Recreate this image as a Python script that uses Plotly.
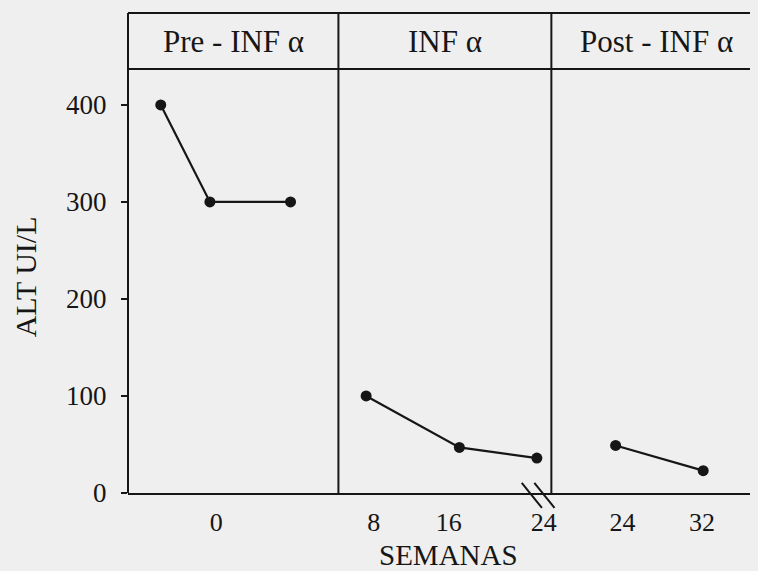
import plotly.graph_objects as go

# ---- data ----
# x positions are in a generic horizontal axis unit (0..100 across the plot)
pre_x = [5.2, 13.0, 25.8]
pre_y = [400, 300, 300]
inf_x = [37.8, 52.6, 64.9]
inf_y = [100, 47, 36]
post_x = [77.4, 91.3]
post_y = [49, 23]

tick_pos = [14.0, 39.0, 50.9, 66.0, 78.5, 91.1]
tick_text = ["0", "8", "16", "24", "24", "32"]

phase_names = ["Pre - INF α", "INF α", "Post - INF α"]
phase_bounds = [0, 33.4, 67.2, 100.6]   # panel edges in axis units

y_ticks = [0, 100, 200, 300, 400]

X_MIN, X_MAX = 0, 100
Y_MIN, Y_MAX = 0, 437
Y_DOM_TOP = 424 / 480

INK = "#161616"
BG = "#efefef"
FONT = "Liberation Serif"

def xp(u):
    return (u - X_MIN) / (X_MAX - X_MIN)

fig = go.Figure()
for xs, ys in [(pre_x, pre_y), (inf_x, inf_y), (post_x, post_y)]:
    fig.add_trace(go.Scatter(
        x=xs, y=ys, mode="lines+markers",
        line=dict(color=INK, width=2.2),
        marker=dict(color=INK, size=11),
        showlegend=False, cliponaxis=False,
    ))

shapes = []
# outer frame: left line full height, top line, header separator
shapes.append(dict(type="line", xref="paper", yref="paper", x0=0, x1=0, y0=0, y1=1,
                   line=dict(color=INK, width=2)))
shapes.append(dict(type="line", xref="paper", yref="paper", x0=0, x1=1, y0=1, y1=1,
                   line=dict(color=INK, width=2)))
shapes.append(dict(type="line", xref="paper", yref="paper", x0=0, x1=1, y0=Y_DOM_TOP, y1=Y_DOM_TOP,
                   line=dict(color=INK, width=2)))
# panel dividers
for b in phase_bounds[1:3]:
    shapes.append(dict(type="line", xref="paper", yref="paper", x0=xp(b), x1=xp(b), y0=0, y1=1,
                       line=dict(color=INK, width=2)))
# axis break marks near the second divider
bx = xp(phase_bounds[2])
for off in [-0.047, -0.027]:
    shapes.append(dict(type="line", xref="paper", yref="paper",
                       x0=bx + off, x1=bx + off + 0.032, y0=0.021, y1=-0.031,
                       line=dict(color=INK, width=2)))

annotations = []
for i, name in enumerate(phase_names):
    cx = xp((phase_bounds[i] + phase_bounds[i + 1]) / 2)
    annotations.append(dict(xref="paper", yref="paper", x=cx, y=(1 + Y_DOM_TOP) / 2,
                            text=name, showarrow=False,
                            font=dict(family=FONT, size=31, color=INK),
                            xanchor="center", yanchor="middle"))
annotations.append(dict(xref="paper", yref="paper", x=-0.163, y=0.45,
                        text="ALT UI/L", textangle=-90, showarrow=False,
                        font=dict(family=FONT, size=30, color=INK),
                        xanchor="center", yanchor="middle"))
annotations.append(dict(xref="paper", yref="paper", x=0.508, y=-0.129,
                        text="SEMANAS", showarrow=False,
                        font=dict(family=FONT, size=29, color=INK),
                        xanchor="center", yanchor="middle"))

# the page body adds an 8px offset, so the figure is 8px smaller and margins shifted
fig.update_layout(
    width=750, height=563,
    margin=dict(l=120, r=0, t=5, b=78),
    paper_bgcolor=BG, plot_bgcolor=BG,
    shapes=shapes, annotations=annotations,
    xaxis=dict(range=[X_MIN, X_MAX], showgrid=False, zeroline=False,
               showline=True, linecolor=INK, linewidth=2,
               tickvals=tick_pos, ticktext=tick_text, ticks="",
               ticklabelstandoff=5,
               tickfont=dict(family=FONT, size=26, color=INK)),
    yaxis=dict(range=[Y_MIN, Y_MAX], domain=[0, Y_DOM_TOP], showgrid=False, zeroline=False,
               showline=False,
               tickvals=y_ticks, ticks="outside", ticklen=6, tickwidth=2, tickcolor=INK,
               ticklabelstandoff=9,
               tickfont=dict(family=FONT, size=27, color=INK)),
)

fig.write_html("out.html", post_script="document.body.style.background='#efefef';")
